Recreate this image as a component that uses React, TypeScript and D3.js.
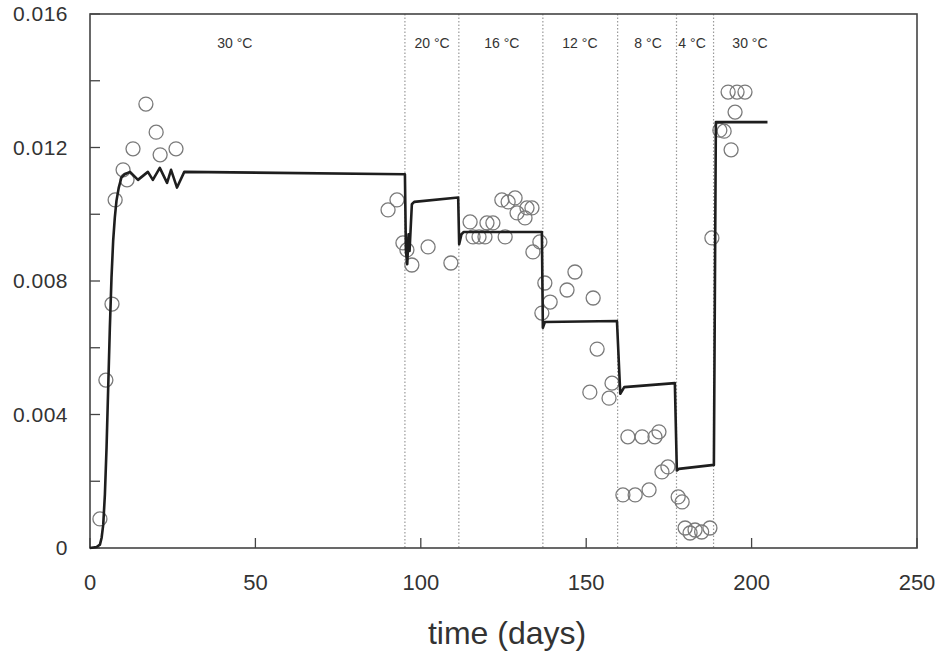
import React from 'react'
import * as d3 from 'd3'

// model curve (days, value)
const modelDays = [
  0, 2, 3, 3.5, 4, 4.5, 5, 5.5, 6, 6.5, 7, 7.5, 8, 8.7, 9.5, 10.5, 12.1, 14.5,
  17.5, 19, 21.1, 23.3, 24.5, 26.3, 28.5, 95.2,
  95.5, 95.9, 96.3, 96.6, 97.3, 98, 111.3,
  111.6, 112.3, 113, 136.6,
  136.9, 137.5, 159.3,
  160.3, 161.5, 176.8,
  177.4, 178, 188.6,
  189.2, 204.8,
]
const modelVals = [
  0, 0.00003, 0.0001, 0.0003, 0.0007, 0.0016, 0.003, 0.0048, 0.0066, 0.0081,
  0.0092, 0.0099, 0.0104, 0.0108, 0.0111, 0.0112, 0.01127, 0.01103,
  0.01127, 0.01103, 0.01139, 0.01094, 0.01133, 0.0108, 0.01127, 0.0112,
  0.0089, 0.0085, 0.0094, 0.0089, 0.0103, 0.01037, 0.0105,
  0.0091, 0.0094, 0.00947, 0.00947,
  0.0066, 0.00677, 0.0068,
  0.00462, 0.00482, 0.00494,
  0.00232, 0.00237, 0.00249,
  0.01276, 0.01276,
]

// measured points
const obsDays = [
  3.0, 4.8, 6.65, 7.6, 10.0, 11.2, 13.0, 16.9, 20.0, 21.2, 26.0,
  90.1, 92.8, 94.6, 95.8, 97.3, 102.2, 109.1,
  114.9, 115.8, 117.6, 119.4, 120.0, 121.8, 125.5, 124.5, 126.4, 128.5, 129.1,
  132.1, 133.6, 131.5, 136.0, 133.9,
  137.5, 139.1, 136.6, 144.2, 146.6, 152.1, 153.3, 151.1, 157.8, 156.9,
  162.6, 166.9, 170.8, 172.0, 172.9, 174.7, 161.1, 164.8, 169.0,
  177.8, 179.0, 179.9, 181.4, 182.9, 184.9, 187.4, 188.0,
  192.9, 195.6, 198.0, 195.0, 190.4, 191.7, 193.8,
]
const obsVals = [
  0.00087, 0.00503, 0.00731, 0.01043, 0.01133, 0.01103, 0.01196, 0.0133, 0.01246, 0.01178, 0.01196,
  0.01013, 0.01043, 0.00914, 0.00893, 0.00848, 0.00902, 0.00854,
  0.00977, 0.00932, 0.00932, 0.00932, 0.00974, 0.00974, 0.00932, 0.01043, 0.01037, 0.01049, 0.01004,
  0.01019, 0.01019, 0.00989, 0.00917, 0.00887,
  0.00794, 0.00737, 0.00704, 0.00773, 0.00827, 0.00749, 0.00596, 0.00467, 0.00494, 0.00449,
  0.00333, 0.00333, 0.00333, 0.00348, 0.00228, 0.00243, 0.00159, 0.00159, 0.00174,
  0.00153, 0.00138, 0.0006, 0.00045, 0.00054, 0.00048, 0.0006, 0.00929,
  0.01366, 0.01366, 0.01366, 0.01306, 0.01252, 0.01249, 0.01193,
]

const boundaries = [95.2, 111.5, 136.9, 159.5, 177.3, 188.5]
const tempLabels = ['30 °C', '20 °C', '16 °C', '12 °C', '8 °C', '4 °C', '30 °C']
const tempLabelDays = [43.8, 103.4, 124.5, 148.1, 168.7, 182, 199.5]

const xTicks = [0, 50, 100, 150, 200, 250]
const yTicks = [0, 0.004, 0.008, 0.012, 0.016]
const yMinorTicks = [0.002, 0.006, 0.01, 0.014]

const W = 940
const H = 656
const font = '"Liberation Sans", Arial, Helvetica, sans-serif'

export default function App() {
  const x = d3.scaleLinear().domain([0, 250]).range([90, 917])
  const y = d3.scaleLinear().domain([0, 0.016]).range([548, 14])

  const line = d3
    .line<number>()
    .x((d) => x(d))
    .y((_, i) => y(modelVals[i]))

  const [x0, x1] = x.range()
  const [y0, y1] = y.range()

  return (
    <svg
      width={W}
      height={H}
      style={{ position: 'absolute', left: 0, top: 0, background: '#fff' }}
      fontFamily={font}
    >
      {/* temperature boundaries */}
      {boundaries.map((b, i) => (
        <line
          key={'b' + i}
          x1={x(b)}
          x2={x(b)}
          y1={y1}
          y2={y0}
          stroke="#999"
          strokeWidth={1.2}
          strokeDasharray="1.5,2"
        />
      ))}

      {tempLabels.map((t, i) => (
        <text
          key={'t' + i}
          x={x(tempLabelDays[i])}
          y={48}
          textAnchor="middle"
          fontSize={14}
          fill="#333"
        >
          {t}
        </text>
      ))}

      {/* frame */}
      <rect
        x={x0}
        y={y1}
        width={x1 - x0}
        height={y0 - y1}
        fill="none"
        stroke="#444"
        strokeWidth={1.6}
      />

      {yTicks.concat(yMinorTicks).map((v, i) => (
        <line key={'yt' + i} x1={x0} x2={x0 + 10} y1={y(v)} y2={y(v)} stroke="#444" strokeWidth={1.3} />
      ))}
      {xTicks.map((v, i) => (
        <line key={'xt' + i} x1={x(v)} x2={x(v)} y1={y0} y2={y0 - 10} stroke="#444" strokeWidth={1.3} />
      ))}

      {yTicks.map((v, i) => (
        <text
          key={'yl' + i}
          x={68}
          y={y(v) + 7}
          textAnchor="end"
          fontSize={21}
          letterSpacing={0.5}
          fill="#333"
        >
          {v === 0 ? '0' : d3.format('.3f')(v)}
        </text>
      ))}
      {xTicks.map((v, i) => (
        <text
          key={'xl' + i}
          x={x(v)}
          y={590}
          textAnchor="middle"
          fontSize={22}
          fill="#333"
        >
          {v}
        </text>
      ))}

      <text x={507} y={644} textAnchor="middle" fontSize={32} fill="#333">
        time (days)
      </text>

      {/* observations */}
      {obsDays.map((d, i) => (
        <circle
          key={'o' + i}
          cx={x(d)}
          cy={y(obsVals[i])}
          r={7}
          fill="none"
          stroke="#7a7a7a"
          strokeWidth={1.3}
        />
      ))}

      {/* model */}
      <path
        d={line(modelDays) || ''}
        fill="none"
        stroke="#1e1e1e"
        strokeWidth={2.6}
        strokeLinejoin="round"
      />
    </svg>
  )
}
